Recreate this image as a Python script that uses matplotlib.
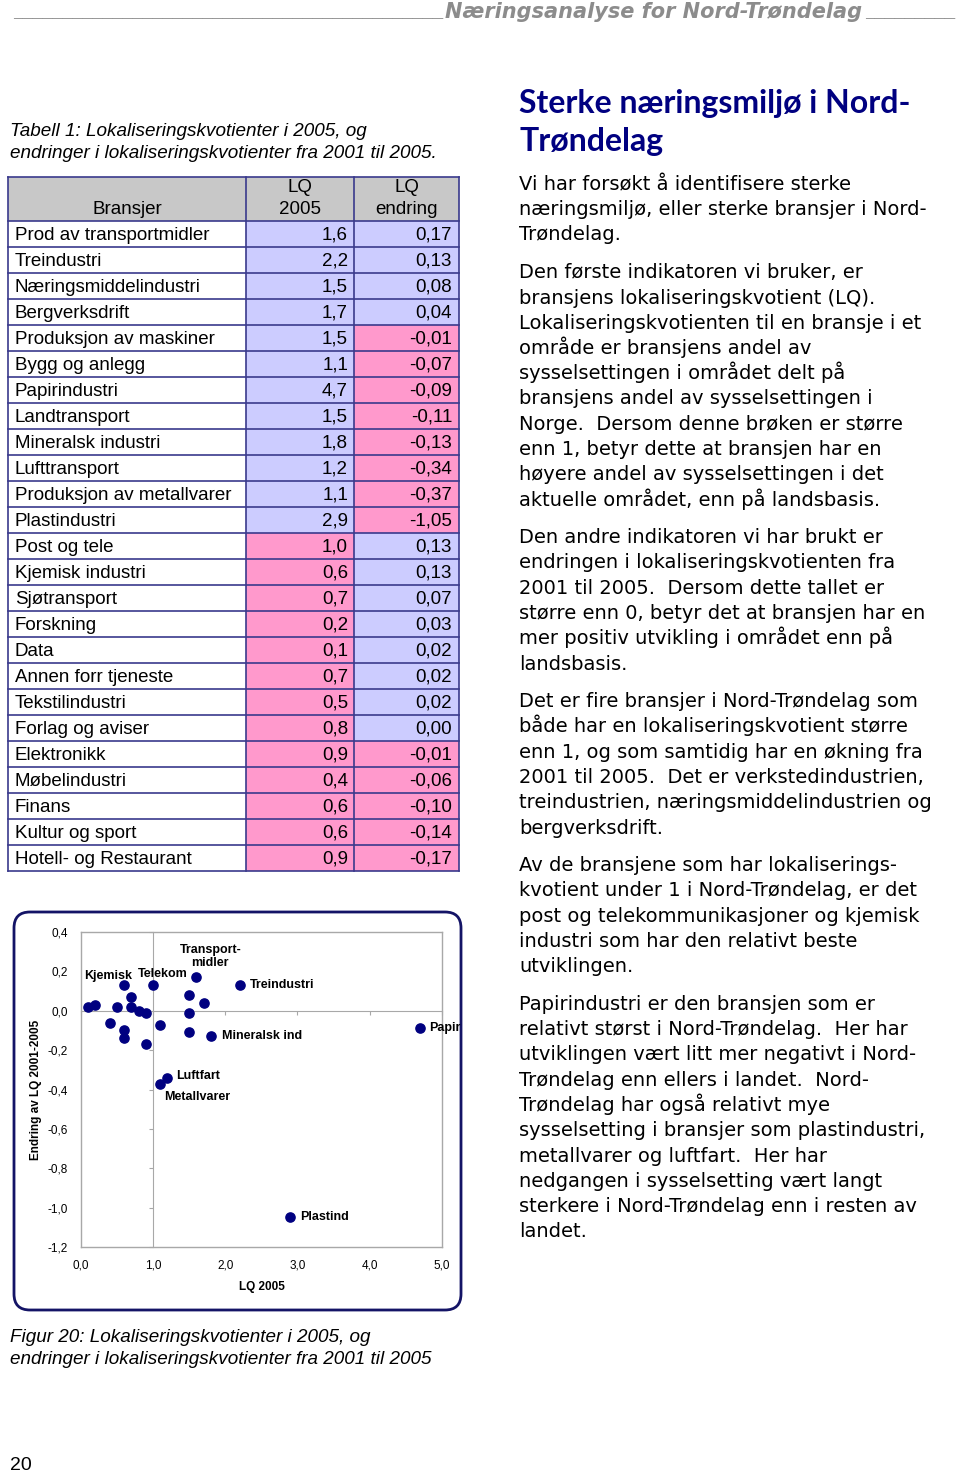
import matplotlib
matplotlib.use("Agg")
import matplotlib.pyplot as plt
from matplotlib.patches import Rectangle, FancyBboxPatch
from matplotlib.ticker import FuncFormatter

# data: table 1 / figure 20
bransjer = ["Prod av transportmidler", "Treindustri", "Næringsmiddelindustri",
            "Bergverksdrift", "Produksjon av maskiner", "Bygg og anlegg",
            "Papirindustri", "Landtransport", "Mineralsk industri", "Lufttransport",
            "Produksjon av metallvarer", "Plastindustri", "Post og tele",
            "Kjemisk industri", "Sjøtransport", "Forskning", "Data",
            "Annen forr tjeneste", "Tekstilindustri", "Forlag og aviser",
            "Elektronikk", "Møbelindustri", "Finans", "Kultur og sport",
            "Hotell- og Restaurant"]
lq_2005 = [1.6, 2.2, 1.5, 1.7, 1.5, 1.1, 4.7, 1.5, 1.8, 1.2, 1.1, 2.9, 1.0,
           0.6, 0.7, 0.2, 0.1, 0.7, 0.5, 0.8, 0.9, 0.4, 0.6, 0.6, 0.9]
lq_endring = [0.17, 0.13, 0.08, 0.04, -0.01, -0.07, -0.09, -0.11, -0.13, -0.34,
              -0.37, -1.05, 0.13, 0.13, 0.07, 0.03, 0.02, 0.02, 0.02, 0.00,
              -0.01, -0.06, -0.10, -0.14, -0.17]
# labelled points in the scatter (row index, label)
punkt_etiketter = [(0, "Transport-\nmidler"), (1, "Treindustri"), (13, "Kjemisk"),
                   (12, "Telekom"), (8, "Mineralsk ind"), (6, "Papir"),
                   (9, "Luftfart"), (10, "Metallvarer"), (11, "Plastind")]
x_ticks = [0, 1, 2, 3, 4, 5]
y_ticks = [-1.2, -1.0, -0.8, -0.6, -0.4, -0.2, 0.0, 0.2, 0.4]

avsnitt = [
    ["Vi har forsøkt å identifisere sterke",
     "næringsmiljø, eller sterke bransjer i Nord-",
     "Trøndelag."],
    ["Den første indikatoren vi bruker, er",
     "bransjens lokaliseringskvotient (LQ).",
     "Lokaliseringskvotienten til en bransje i et",
     "område er bransjens andel av",
     "sysselsettingen i området delt på",
     "bransjens andel av sysselsettingen i",
     "Norge.  Dersom denne brøken er større",
     "enn 1, betyr dette at bransjen har en",
     "høyere andel av sysselsettingen i det",
     "aktuelle området, enn på landsbasis."],
    ["Den andre indikatoren vi har brukt er",
     "endringen i lokaliseringskvotienten fra",
     "2001 til 2005.  Dersom dette tallet er",
     "større enn 0, betyr det at bransjen har en",
     "mer positiv utvikling i området enn på",
     "landsbasis."],
    ["Det er fire bransjer i Nord-Trøndelag som",
     "både har en lokaliseringskvotient større",
     "enn 1, og som samtidig har en økning fra",
     "2001 til 2005.  Det er verkstedindustrien,",
     "treindustrien, næringsmiddelindustrien og",
     "bergverksdrift."],
    ["Av de bransjene som har lokaliserings-",
     "kvotient under 1 i Nord-Trøndelag, er det",
     "post og telekommunikasjoner og kjemisk",
     "industri som har den relativt beste",
     "utviklingen."],
    ["Papirindustri er den bransjen som er",
     "relativt størst i Nord-Trøndelag.  Her har",
     "utviklingen vært litt mer negativt i Nord-",
     "Trøndelag enn ellers i landet.  Nord-",
     "Trøndelag har også relativt mye",
     "sysselsetting i bransjer som plastindustri,",
     "metallvarer og luftfart.  Her har",
     "nedgangen i sysselsetting vært langt",
     "sterkere i Nord-Trøndelag enn i resten av",
     "landet."],
]

NAVY = "#000080"
LINE = "#3a3a8c"
LILLA = "#ccccff"
ROSA = "#ff99cc"
GRA = "#c8c8c8"

fig = plt.figure(figsize=(9.6, 14.76), dpi=100)
bg = fig.add_axes([0, 0, 1, 1])
bg.set_xlim(0, 960)
bg.set_ylim(1476, 0)
bg.axis("off")

# page header
hfont = dict(style="italic", weight="bold", color="#8c8c8c")
bg.text(444, 13, "_" * 43, ha="right", va="center", family="Liberation Sans", fontsize=13, **hfont)
bg.text(445, 12, "Næringsanalyse for Nord-Trøndelag", ha="left", va="center",
        family="DejaVu Sans", fontsize=15, **hfont)
bg.text(866, 13, "_" * 9, ha="left", va="center", family="Liberation Sans", fontsize=13, **hfont)

# table caption
cap = dict(family="Liberation Sans", style="italic", fontsize=13.6, color="black")
bg.text(10, 132, "Tabell 1: Lokaliseringskvotienter i 2005, og", va="center", **cap)
bg.text(10, 154, "endringer i lokaliseringskvotienter fra 2001 til 2005.", va="center", **cap)

# table
xe = [8, 246, 354, 459]
top, hbot, rh = 177, 221, 26
n = len(bransjer)
bot = hbot + n * rh
for j in range(3):
    bg.add_patch(Rectangle((xe[j], top), xe[j + 1] - xe[j], hbot - top, fc=GRA, ec="none"))
tf = dict(family="Liberation Sans", fontsize=13.5, va="center")
for i in range(n):
    y0 = hbot + i * rh
    c1 = LILLA if lq_2005[i] > 1.0 else ROSA
    c2 = LILLA if lq_endring[i] >= 0 else ROSA
    for j, c in enumerate(["white", c1, c2]):
        bg.add_patch(Rectangle((xe[j], y0), xe[j + 1] - xe[j], rh, fc=c, ec="none"))
    yc = y0 + rh / 2 + 1
    bg.text(15, yc, bransjer[i], ha="left", **tf)
    bg.text(348, yc, f"{lq_2005[i]:.1f}".replace(".", ","), ha="right", **tf)
    bg.text(452, yc, f"{lq_endring[i]:.2f}".replace(".", ","), ha="right", **tf)
for k in range(n + 1):
    y = hbot + k * rh
    bg.plot([xe[0], xe[-1]], [y, y], color=LINE, lw=1.2)
bg.plot([xe[0], xe[-1]], [top, top], color=LINE, lw=1.2)
for x in xe:
    bg.plot([x, x], [top, bot], color=LINE, lw=1.2)
hf = dict(family="Liberation Sans", fontsize=13.5, ha="center", va="center")
bg.text((xe[0] + xe[1]) / 2, 210, "Bransjer", **hf)
bg.text((xe[1] + xe[2]) / 2, 188, "LQ", **hf)
bg.text((xe[1] + xe[2]) / 2, 210, "2005", **hf)
bg.text((xe[2] + xe[3]) / 2, 188, "LQ", **hf)
bg.text((xe[2] + xe[3]) / 2, 210, "endring", **hf)

# chart frame
bg.add_patch(FancyBboxPatch((14, 912), 447, 398, boxstyle="round,pad=0,rounding_size=16",
                            fc="white", ec="#141466", lw=2))

# scatter
pl, pr, pt, pb = 80.7, 442, 932, 1247
rect = [pl / 960, 1 - pb / 1476, (pr - pl) / 960, (pb - pt) / 1476]
ax = fig.add_axes(rect)
ax.set_xlim(0, 5)
ax.set_ylim(-1.2, 0.4)
ax.set_xticks(x_ticks)
ax.set_yticks(y_ticks)
ax.xaxis.set_major_formatter(FuncFormatter(lambda v, p: f"{v:.1f}".replace(".", ",")))
ax.yaxis.set_major_formatter(FuncFormatter(lambda v, p: f"{v:.1f}".replace(".", ",").replace("-0,0", "0,0")))
ax.tick_params(length=0, labelsize=8.5, pad=9)
for lab in ax.get_xticklabels() + ax.get_yticklabels():
    lab.set_family("Liberation Sans")
for s in ax.spines.values():
    s.set_color("#a8a8a8")
    s.set_linewidth(1)

ax2 = fig.add_axes(rect, sharex=ax, sharey=ax)
ax2.patch.set_visible(False)
ax2.spines["top"].set_visible(False)
ax2.spines["right"].set_visible(False)
ax2.spines["left"].set_position(("data", 1.0))
ax2.spines["bottom"].set_position(("data", 0.0))
for s in ("left", "bottom"):
    ax2.spines[s].set_color("#a8a8a8")
ax2.tick_params(length=3, color="#a8a8a8", labelleft=False, labelbottom=False)

ax2.scatter(lq_2005, lq_endring, s=44, color=NAVY, zorder=5, clip_on=False)

offs = {0: (14, -21), 1: (10, 0), 13: (-16, -9), 12: (10, -11), 8: (11, 0),
        6: (9, 0), 9: (9, -2), 10: (4, 13), 11: (10, 0)}
for i, txt in punkt_etiketter:
    dx, dy = offs[i]
    ha = "left" if i in (1, 8, 6, 9, 10, 11) else "center"
    ax2.annotate(txt, (lq_2005[i], lq_endring[i]), xytext=(dx, -dy),
                 textcoords="offset pixels", ha=ha, va="center",
                 fontsize=9, weight="bold", family="Liberation Sans",
                 linespacing=1.1, annotation_clip=False)

bg.text(36, 1090, "Endring av LQ 2001-2005", rotation=90, ha="center", va="center",
        fontsize=8.5, weight="bold", family="Liberation Sans")
bg.text(262, 1287, "LQ 2005", ha="center", va="center",
        fontsize=8.5, weight="bold", family="Liberation Sans")

# figure caption and page number
bg.text(10, 1338, "Figur 20: Lokaliseringskvotienter i 2005, og", va="center", **cap)
bg.text(10, 1360, "endringer i lokaliseringskvotienter fra 2001 til 2005", va="center", **cap)
bg.text(10, 1465, "20", va="center", family="Liberation Sans", fontsize=14)

# right column
ovs = dict(family="Lato", weight="bold", color=NAVY, fontsize=23)
bg.text(519, 104, "Sterke næringsmiljø i Nord-", va="center", **ovs)
bg.text(519, 141, "Trøndelag", va="center", **ovs)

y = 190
for para in avsnitt:
    for line in para:
        bg.text(519, y, line, va="baseline", family="DejaVu Sans", fontsize=14)
        y += 25.25
    y += 12.5

fig.savefig("out.png", dpi=100)
